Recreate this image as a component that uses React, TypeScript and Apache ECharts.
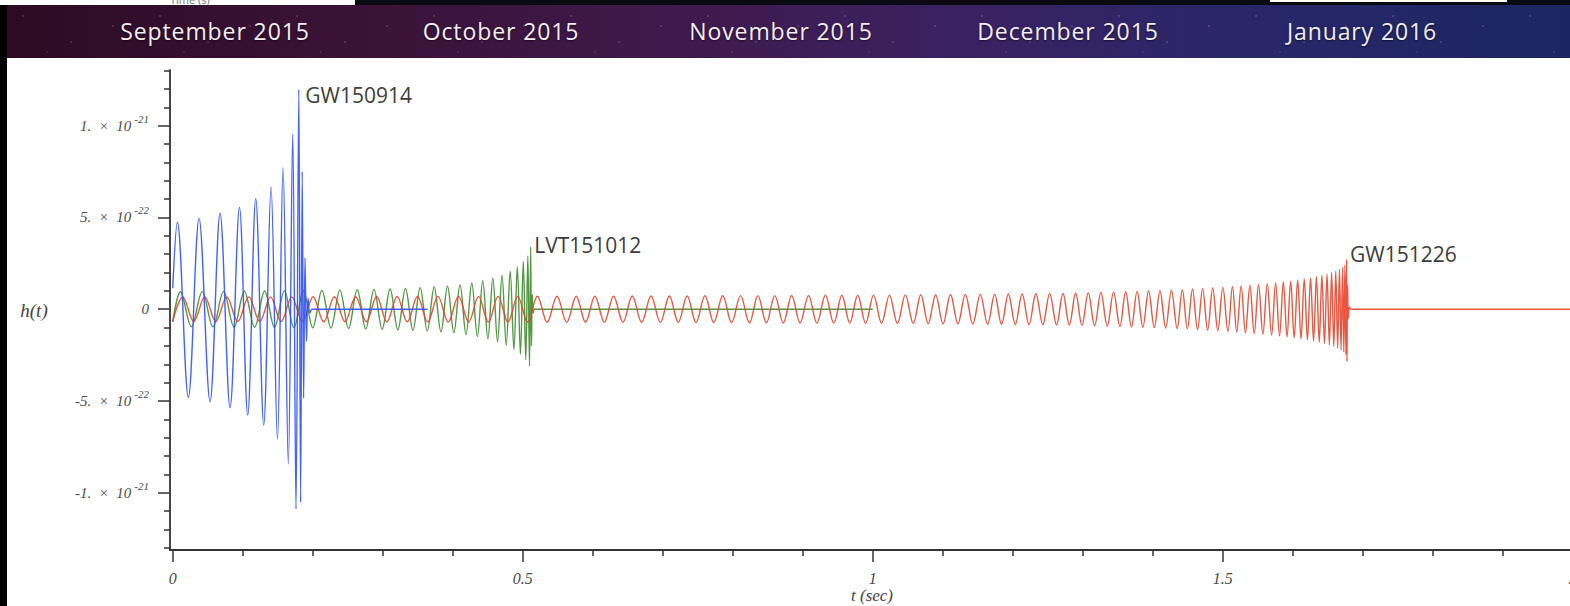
import React, { useEffect, useRef } from 'react';
import * as echarts from 'echarts';

// ---------------- data (h(t) in units of 1e-21, t in seconds) ----------------
const eventNames = ['GW150914', 'LVT151012', 'GW151226'];
const monthLabels = ['September 2015', 'October 2015', 'November 2015', 'December 2015', 'January 2016'];

const xMajorTicks = [0, 0.5, 1, 1.5, 2];
const xMinorTicks = [0.1, 0.2, 0.3, 0.4, 0.6, 0.7, 0.8, 0.9, 1.1, 1.2, 1.3, 1.4, 1.6, 1.7, 1.8, 1.9];
const yTickValues = [-1, -0.5, 0, 0.5, 1];
const yTickMantissas = ['-1.', '-5.', '0', '5.', '1.'];
const yTickExponents = ['-21', '-22', '', '-22', '-21'];
const yMinorTicks = [-1.3, -1.2, -1.1, -0.9, -0.8, -0.7, -0.6, -0.4, -0.3, -0.2, -0.1,
  0.1, 0.2, 0.3, 0.4, 0.6, 0.7, 0.8, 0.9, 1.1, 1.2, 1.3];

// GW150914 (blue): extrema of the waveform
const blueT = [0, 0.0066, 0.0223, 0.0376, 0.0533, 0.0676, 0.0819, 0.0953, 0.1071, 0.1186,
  0.1300, 0.1404, 0.1496, 0.1576, 0.1651, 0.1714, 0.1761, 0.1801, 0.1827, 0.1850,
  0.1870, 0.1890, 0.1911, 0.1933, 0.1961, 0.1990, 0.364];
const blueV = [0.114, 0.474, -0.480, 0.495, -0.504, 0.523, -0.537, 0.555, -0.577, 0.602,
  -0.631, 0.666, -0.709, 0.771, -0.844, 0.955, -1.089, 1.198, -1.052, 0.75,
  -0.485, 0.28, -0.175, 0.06, -0.02, 0, 0];

// LVT151012 (green)
const greenT = [0, 0.0110, 0.0266, 0.0422, 0.0575, 0.0727, 0.0876, 0.1023, 0.1170, 0.1313, 0.1454,
  0.1595, 0.1731, 0.1867, 0.2000, 0.2131, 0.2260, 0.2388, 0.2512, 0.2635, 0.2758,
  0.2875, 0.2992, 0.3105, 0.3216, 0.3325, 0.3431, 0.3535, 0.3636, 0.3735, 0.3832,
  0.3925, 0.4016, 0.4104, 0.4190, 0.4272, 0.4352, 0.4429, 0.4502, 0.4573, 0.4640,
  0.4704, 0.4764, 0.4821, 0.4874, 0.4923, 0.4967, 0.5008, 0.5043, 0.5073, 0.5097, 0.5114,
  0.5125, 0.5136, 0.5150, 0.5170, 1.0];
const greenV = [-0.07, 0.095, -0.095, 0.096, -0.096, 0.097, -0.097, 0.098, -0.098, 0.099, -0.099,
  0.100, -0.100, 0.101, -0.101, 0.102, -0.103, 0.104, -0.105, 0.106, -0.107,
  0.108, -0.109, 0.110, -0.112, 0.113, -0.115, 0.117, -0.119, 0.121, -0.123,
  0.125, -0.129, 0.133, -0.138, 0.143, -0.149, 0.155, -0.162, 0.169, -0.177,
  0.186, -0.196, 0.207, -0.219, 0.232, -0.246, 0.260, -0.275, 0.290, -0.310, 0.340,
  -0.2, 0.08, -0.02, 0, 0];

// GW151226 (red)
const redT = [0, 0.0143, 0.0300, 0.0458, 0.0615, 0.0772, 0.0929, 0.1086, 0.1244, 0.1397, 0.1549,
  0.1701, 0.1853, 0.2005, 0.2157, 0.2309, 0.2461, 0.2613, 0.2766, 0.2913, 0.3059,
  0.3205, 0.3351, 0.3497, 0.3643, 0.3789, 0.3936, 0.4082, 0.4228, 0.4369, 0.4509,
  0.4649, 0.4789, 0.4929, 0.5069, 0.5209, 0.5349, 0.5489, 0.5629, 0.5764, 0.5897,
  0.6031, 0.6165, 0.6298, 0.6432, 0.6565, 0.6699, 0.6833, 0.6966, 0.7095, 0.7222,
  0.7349, 0.7476, 0.7603, 0.7730, 0.7857, 0.7984, 0.8111, 0.8239, 0.8360, 0.8481,
  0.8601, 0.8722, 0.8842, 0.8962, 0.9083, 0.9203, 0.9324, 0.9444, 0.9559, 0.9672,
  0.9786, 0.9899, 1.0012, 1.0126, 1.0239, 1.0353, 1.0466, 1.0579, 1.0687, 1.0793,
  1.0899, 1.1005, 1.1111, 1.1217, 1.1323, 1.1430, 1.1536, 1.1642, 1.1742, 1.1840,
  1.1938, 1.2037, 1.2135, 1.2233, 1.2331, 1.2430, 1.2528, 1.2626, 1.2718, 1.2809,
  1.2899, 1.2989, 1.3079, 1.3170, 1.3260, 1.3350, 1.3441, 1.3531, 1.3614, 1.3696,
  1.3777, 1.3859, 1.3941, 1.4022, 1.4104, 1.4185, 1.4267, 1.4349, 1.4423, 1.4495,
  1.4568, 1.4640, 1.4713, 1.4785, 1.4857, 1.4930, 1.5002, 1.5075, 1.5139, 1.5201,
  1.5263, 1.5325, 1.5388, 1.5450, 1.5512, 1.5574, 1.5636, 1.5699, 1.5756, 1.5812,
  1.5866, 1.5919, 1.5971, 1.6021, 1.6071, 1.6119, 1.6165, 1.6211, 1.6255, 1.6298,
  1.6339, 1.6379, 1.6417, 1.6454, 1.6490, 1.6524, 1.6556, 1.6587, 1.6615, 1.6642,
  1.6668, 1.6691, 1.6712, 1.6730, 1.6746, 1.6760, 1.6770, 1.6776,
  1.6784, 1.6795, 1.6810, 1.6835, 2.0];
const redV = [-0.065, 0.067, -0.067, 0.067, -0.067, 0.067, -0.067, 0.067, -0.067, 0.067, -0.067,
  0.067, -0.067, 0.068, -0.068, 0.068, -0.068, 0.068, -0.068, 0.069, -0.069,
  0.069, -0.069, 0.069, -0.070, 0.070, -0.070, 0.070, -0.070, 0.070, -0.070,
  0.070, -0.070, 0.070, -0.070, 0.071, -0.071, 0.071, -0.071, 0.071, -0.071,
  0.071, -0.071, 0.071, -0.071, 0.072, -0.072, 0.072, -0.072, 0.072, -0.072,
  0.072, -0.072, 0.073, -0.073, 0.073, -0.073, 0.074, -0.074, 0.074, -0.074,
  0.074, -0.075, 0.075, -0.075, 0.075, -0.076, 0.076, -0.076, 0.076, -0.076,
  0.076, -0.077, 0.077, -0.077, 0.077, -0.078, 0.078, -0.078, 0.079, -0.079,
  0.079, -0.080, 0.080, -0.080, 0.081, -0.081, 0.081, -0.082, 0.082, -0.082,
  0.083, -0.083, 0.083, -0.084, 0.084, -0.084, 0.085, -0.085, 0.086, -0.086,
  0.087, -0.088, 0.089, -0.090, 0.091, -0.092, 0.093, -0.094, 0.095, -0.096,
  0.097, -0.098, 0.099, -0.100, 0.101, -0.102, 0.104, -0.105, 0.106, -0.108,
  0.109, -0.111, 0.112, -0.114, 0.116, -0.117, 0.119, -0.121, 0.123, -0.125,
  0.127, -0.129, 0.131, -0.133, 0.135, -0.137, 0.139, -0.141, 0.143, -0.146,
  0.148, -0.151, 0.153, -0.156, 0.159, -0.162, 0.165, -0.168, 0.171, -0.174,
  0.177, -0.180, 0.184, -0.187, 0.191, -0.195, 0.199, -0.203, 0.207, -0.212,
  0.217, -0.222, 0.228, -0.234, 0.241, -0.249, 0.272, -0.286,
  0.13, -0.05, 0.012, 0, 0];

// ---------------- chart ----------------
const serifFont = '"Liberation Serif", "DejaVu Serif", serif';
const labelSans = '"Open Sans", "DejaVu Sans", sans-serif';

function pairs(t: number[], v: number[]) {
  return t.map((x, i) => [x, v[i]]);
}
function peakIndex(v: number[]) {
  let best = 0;
  v.forEach((x, i) => { if (x > v[best]) best = i; });
  return best;
}

function makeSeries(name: string, t: number[], v: number[], color: string, z: number, lbl: { dist: number; off: [number, number] }) {
  const ip = peakIndex(v);
  return {
    name,
    type: 'line',
    data: pairs(t, v),
    showSymbol: false,
    symbol: 'none',
    smooth: 0.36,
    clip: true,
    z,
    lineStyle: { color, width: 1.4, opacity: 0.9 },
    silent: true,
    markPoint: {
      silent: true,
      symbol: 'circle',
      symbolSize: 1,
      itemStyle: { color: 'rgba(0,0,0,0)' },
      label: {
        show: true,
        position: 'right',
        distance: lbl.dist,
        offset: lbl.off,
        formatter: name,
        fontFamily: labelSans,
        fontSize: 21,
        color: '#3d3d3d',
      },
      data: [{ coord: [t[ip], v[ip]] }],
    },
  };
}

export default function App() {
  const ref = useRef<HTMLDivElement>(null);

  useEffect(() => {
    document.body.style.margin = '0';
    document.body.style.overflow = 'hidden';
    const chart = echarts.init(ref.current!, null, { renderer: 'svg' });
    const xMin = -0.0039;
    const xMax = 2.0;
    const yMin = -1.312;
    const yMax = 1.3035;
    const axisColor = '#333';
    const sp = '\u00a0';
    chart.setOption({
      animation: false,
      grid: { left: 170, top: 70, width: 1402.7, height: 480 },
      xAxis: [
        {
          type: 'value', min: xMin, max: xMax, position: 'bottom',
          axisLine: { show: true, onZero: false, lineStyle: { color: axisColor, width: 1.8 } },
          axisTick: { show: true, customValues: xMajorTicks, length: 12, lineStyle: { color: axisColor, width: 1.5 } },
          axisLabel: {
            customValues: xMajorTicks, margin: 20, fontFamily: serifFont, fontStyle: 'italic',
            fontSize: 16, color: '#4a4a4a',
          },
          splitLine: { show: false },
        },
        {
          type: 'value', min: xMin, max: xMax, position: 'bottom',
          axisLine: { show: false, onZero: false },
          axisTick: { show: true, customValues: xMinorTicks, length: 6, lineStyle: { color: axisColor, width: 1.5 } },
          axisLabel: { show: false },
          splitLine: { show: false },
        },
      ],
      yAxis: [
        {
          type: 'value', min: yMin, max: yMax, position: 'left',
          axisLine: { show: true, onZero: false, lineStyle: { color: axisColor, width: 1.8 } },
          axisTick: { show: true, customValues: yTickValues, length: 12, lineStyle: { color: axisColor, width: 1.5 } },
          axisLabel: {
            customValues: yTickValues,
            margin: 21,
            formatter: (val: number) => {
              const i = yTickValues.findIndex((x) => Math.abs(x - val) < 1e-9);
              if (i < 0) return '';
              if (!yTickExponents[i]) return `{b|${yTickMantissas[i]}}`;
              return `{b|${yTickMantissas[i]}${sp}${sp}×${sp}${sp}10}{s|${yTickExponents[i]}}`;
            },
            rich: {
              b: { fontFamily: serifFont, fontStyle: 'italic', fontSize: 15, color: '#4a4a4a', lineHeight: 25 },
              s: { fontFamily: serifFont, fontStyle: 'italic', fontSize: 11, color: '#4a4a4a', lineHeight: 11, verticalAlign: 'top', padding: [0, 0, 0, 3] },
            },
          },
          splitLine: { show: false },
        },
        {
          type: 'value', min: yMin, max: yMax, position: 'left',
          axisLine: { show: false, onZero: false },
          axisTick: { show: true, customValues: yMinorTicks, length: 6, lineStyle: { color: axisColor, width: 1.5 } },
          axisLabel: { show: false },
          splitLine: { show: false },
        },
      ],
      graphic: [
        {
          type: 'text', x: 34, y: 310,
          style: { text: 'h(t)', font: `italic 19px ${serifFont}`, fill: '#444', textAlign: 'center', textVerticalAlign: 'middle' },
        },
        {
          type: 'text', x: 872, y: 595,
          style: { text: 't (sec)', font: `italic 17px ${serifFont}`, fill: '#444', textAlign: 'center', textVerticalAlign: 'middle' },
        },
      ],
      series: [
        makeSeries(eventNames[1], greenT, greenV, '#3f8c2d', 2, { dist: 3, off: [0, -2] }),
        makeSeries(eventNames[2], redT, redV, '#e8442b', 3, { dist: 3, off: [0, -5] }),
        makeSeries(eventNames[0], blueT, blueV, '#2f50ff', 4, { dist: 6, off: [0, 6] }),
      ],
    });
    return () => chart.dispose();
  }, []);

  const monthCenters = [215, 501, 781, 1068, 1362];

  return (
    <div style={{ position: 'relative', width: 1570, height: 606, overflow: 'hidden', background: '#fff' }}>
      <div ref={ref} style={{ position: 'absolute', left: 0, top: 0, width: 1580, height: 606 }} />
      {/* top strip */}
      <div style={{ position: 'absolute', left: 0, top: 0, width: 1570, height: 5, background: '#0a0a12' }} />
      <div style={{ position: 'absolute', left: 0, top: 0, width: 355, height: 5, background: '#fff', overflow: 'hidden' }}>
        <div style={{ position: 'absolute', left: 170, top: -8, fontFamily: labelSans, fontSize: 11, color: '#777', whiteSpace: 'nowrap' }}>Time (s)</div>
      </div>
      <div style={{ position: 'absolute', left: 1270, top: 0, width: 237, height: 2, background: '#fff' }} />
      {/* banner */}
      <div
        style={{
          position: 'absolute', left: 0, top: 5, width: 1570, height: 53,
          backgroundColor: '#2a1030',
          backgroundImage:
            'radial-gradient(1px 1px at 23px 11px, rgba(255,220,255,0.55), transparent),' +
            'radial-gradient(1px 1px at 71px 37px, rgba(255,220,255,0.45), transparent),' +
            'radial-gradient(1px 1px at 113px 21px, rgba(255,220,255,0.5), transparent),' +
            'radial-gradient(1px 1px at 47px 47px, rgba(255,220,255,0.35), transparent),' +
            'linear-gradient(90deg, #2c0b24 0%, #3a1236 22%, #3f1a4e 45%, #3a2262 62%, #28276a 80%, #1b2660 100%)',
          backgroundSize: '137px 53px, 137px 53px, 137px 53px, 137px 53px, 100% 100%',
        }}
      />
      {monthLabels.map((m, i) => (
        <div
          key={m}
          style={{
            position: 'absolute', top: 16, left: monthCenters[i], transform: 'translateX(-50%)',
            fontFamily: labelSans, fontSize: 23, lineHeight: '30px', letterSpacing: '0.9px',
            color: '#f3eef3', whiteSpace: 'nowrap', textShadow: '0 1px 2px rgba(0,0,0,0.6)',
          }}
        >
          {m}
        </div>
      ))}
      {/* left dark edge */}
      <div style={{ position: 'absolute', left: 0, top: 5, width: 7, height: 601, background: '#000' }} />
    </div>
  );
}
